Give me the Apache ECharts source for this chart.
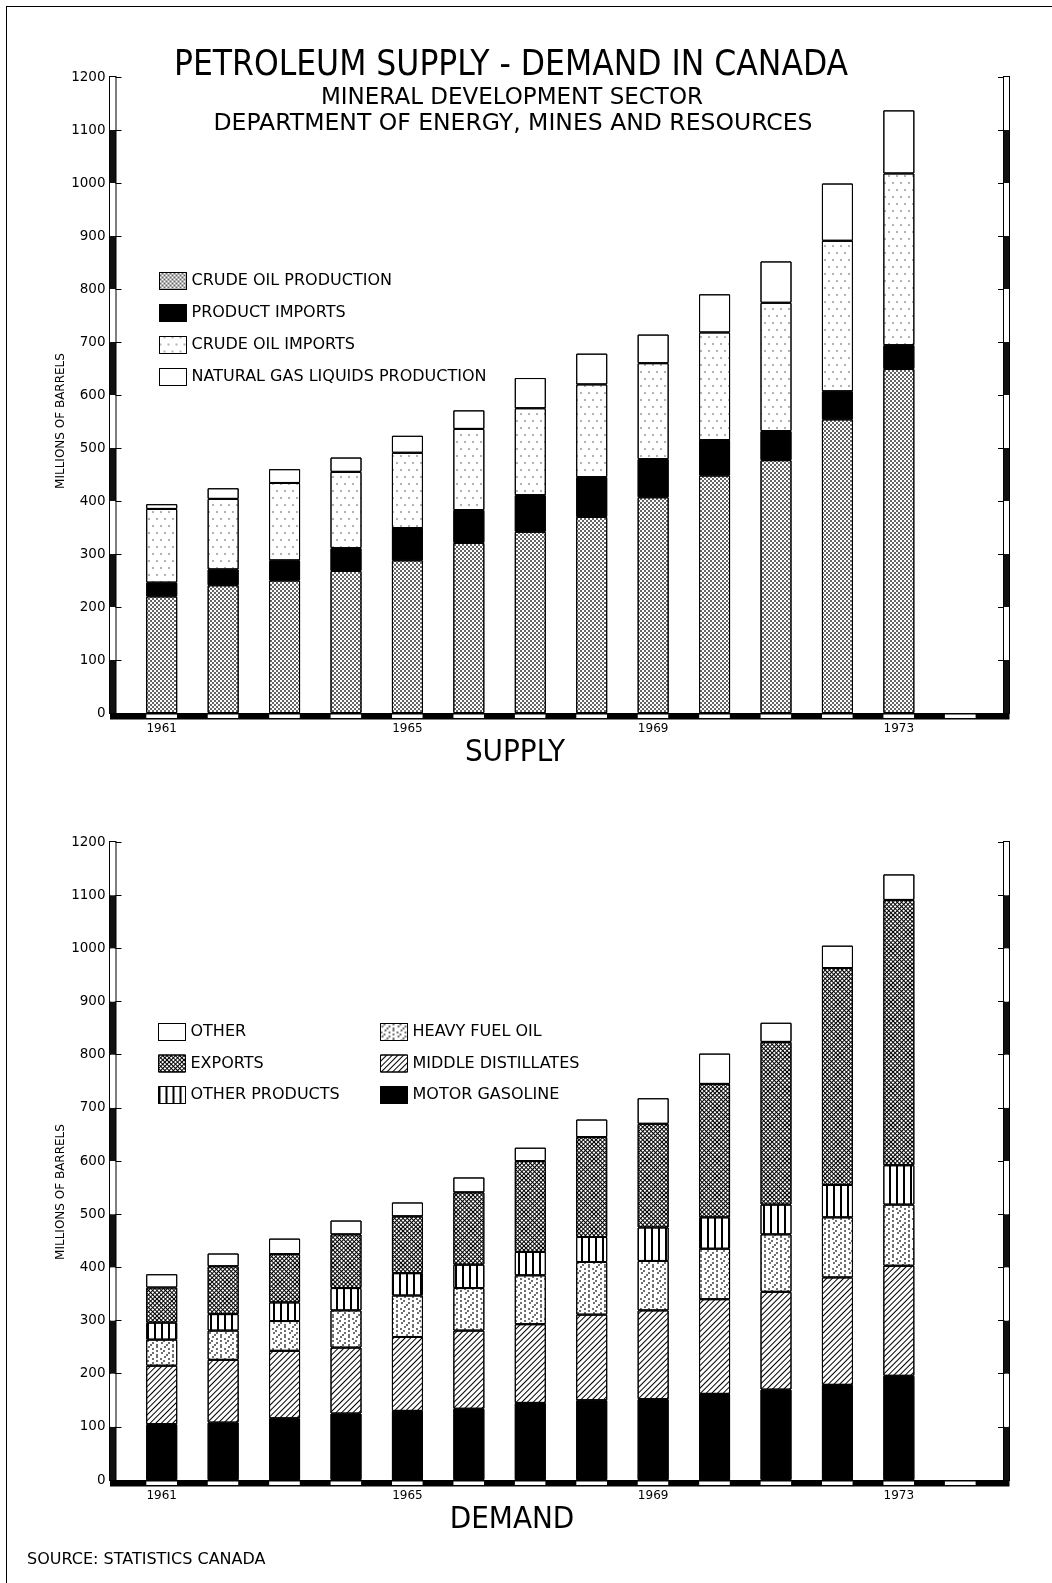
<!DOCTYPE html>
<html>
<head>
<meta charset="utf-8">
<title>Petroleum Supply - Demand in Canada</title>
<script src="https://cdn.jsdelivr.net/npm/echarts@6/dist/echarts.min.js"></script>
<style>
  html, body { margin: 0; padding: 0; background: #fff; }
  #chart { width: 1052px; height: 1583px; }
  #frame { position: absolute; left: 6px; top: 6px; width: 1046px; height: 1577px;
           border-left: 1.5px solid #000; border-top: 1.5px solid #000; pointer-events: none; }
</style>
</head>
<body>
<div id="chart"></div>
<div id="frame"></div>
<script>
// categories (last slot is the empty 1974 position)
const years = ['1961', '1962', '1963', '1964', '1965', '1966', '1967', '1968', '1969', '1970', '1971', '1972', '1973', ''];

// SUPPLY, millions of barrels
const crudeOilProduction = [220, 241, 250, 268, 288, 321, 342, 370, 407, 448, 477, 554, 649];
const productImports = [26, 30, 38, 43, 61, 62, 69, 75, 72, 67, 55, 53, 45];
const crudeOilImports = [139, 133, 146, 144, 142, 153, 164, 175, 181, 203, 242, 284, 324];
const naturalGasLiquids = [9, 20, 26, 27, 32, 35, 57, 58, 54, 72, 78, 108, 119];

// DEMAND, millions of barrels
const motorGasoline = [105, 108, 116, 125, 130, 134, 145, 150, 152, 162, 170, 179, 196];
const middleDistillates = [110, 118, 127, 124, 139, 147, 148, 161, 167, 178, 184, 202, 207];
const heavyFuelOil = [49, 55, 56, 70, 78, 80, 92, 99, 93, 95, 108, 113, 115];
const otherProducts = [32, 31, 35, 42, 42, 44, 44, 47, 63, 59, 56, 61, 74];
const exportsData = [66, 90, 91, 101, 107, 136, 171, 188, 195, 251, 306, 408, 499];
const otherDemand = [25, 24, 29, 26, 26, 28, 25, 33, 48, 57, 36, 42, 48];

const FONT = '"DejaVu Sans", "Noto Sans", sans-serif';
const NARROW = '"Liberation Sans Narrow", "DejaVu Sans Condensed", Roboto, sans-serif';

// fill patterns
const plain = {symbol: 'rect', symbolSize: 1, color: 'rgba(0,0,0,0)', dashArrayX: [1, 0], dashArrayY: [1, 0], rotation: 0};
const denseDots = {symbol: 'rect', symbolSize: 0.8, color: '#000', dashArrayX: [[2, 2], [0, 2, 2, 0]], dashArrayY: [2, 0], rotation: 0};
const sparseDots = {symbol: 'rect', symbolSize: 0.6, color: '#000', dashArrayX: [[2, 6], [0, 4, 2, 2]], dashArrayY: [2, 5], rotation: 0};
const crossHatch = {symbol: 'rect', symbolSize: 1, color: '#000', dashArrayX: [[3, 0], [1, 2]], dashArrayY: [1, 0, 2, 0], rotation: Math.PI / 4};
const vLines = {symbol: 'rect', symbolSize: 1, color: '#000', dashArrayX: [2, 5], dashArrayY: [1, 0], rotation: 0};
const stipple = {symbol: 'rect', symbolSize: 0.75, color: '#000',
  dashArrayX: [[2, 6, 2, 6], [0, 3, 2, 7, 2, 2], [0, 1, 2, 5, 2, 6], [0, 6, 2, 4, 2, 2], [0, 4, 2, 6, 2, 2]],
  dashArrayY: [2, 0], rotation: 0};
const diagonal = {symbol: 'rect', symbolSize: 1, color: '#000', dashArrayX: [1, 0], dashArrayY: [1, 3], rotation: -Math.PI / 4};

function bar(name, data, color, decal, axis, stack) {
  return {
    name, type: 'bar', stack, data,
    xAxisIndex: axis, yAxisIndex: axis * 2,
    barWidth: 31,
    itemStyle: {color, borderColor: '#000', borderWidth: 1, decal},
    emphasis: {disabled: true}
  };
}

// main grids, side scale bars, bottom strips
const plots = [{top: 77, height: 636}, {top: 842, height: 638}];
const grids = [];
plots.forEach(p => grids.push({left: 131, top: p.top, width: 860, height: p.height, outerBoundsMode: 'none'}));
plots.forEach(p => {
  grids.push({left: 110, top: p.top, width: 5.5, height: p.height, show: true, borderColor: '#000', borderWidth: 2, backgroundColor: 'transparent', outerBoundsMode: 'none'});
  grids.push({left: 1004, top: p.top, width: 5, height: p.height, show: true, borderColor: '#000', borderWidth: 2, backgroundColor: 'transparent', outerBoundsMode: 'none'});
});
plots.forEach(p => {
  const y0 = p.top + p.height;
  grids.push({left: 110, top: y0, width: 899.5, height: 6.5, show: true, backgroundColor: '#000', borderWidth: 0, outerBoundsMode: 'none'});
  grids.push({left: 115.6, top: y0 + 1.5, width: 860, height: 3.5, outerBoundsMode: 'none'});
});

const hidden = g => ({gridIndex: g, type: 'value', show: false, min: 0, max: 1});
const xAxes = [0, 1].map(g => ({
  gridIndex: g, type: 'category', data: years,
  axisLine: {show: false}, axisTick: {show: false},
  axisLabel: {interval: 3, margin: 10, color: '#000', fontSize: 12, fontFamily: FONT}
}));
[2, 3, 4, 5, 6, 8].forEach(g => xAxes.push(hidden(g)));
[7, 9].forEach(g => xAxes.push({
  gridIndex: g, type: 'value', min: 0, max: 28, interval: 1,
  axisLine: {show: false}, axisTick: {show: false}, axisLabel: {show: false}, splitLine: {show: false},
  splitArea: {show: true, areaStyle: {color: ['#000', '#fff']}}
}));
// keep xAxis order equal to grid order
xAxes.sort((a, b) => a.gridIndex - b.gridIndex);

const yAxes = [];
[0, 1].forEach(g => {
  yAxes.push({
    gridIndex: g, type: 'value', min: 0, max: 1200, interval: 100, offset: 15.5,
    axisLine: {show: false},
    axisTick: {show: true, inside: true, length: 6, lineStyle: {color: '#000', width: 1}},
    axisLabel: {margin: 10, color: '#000', fontSize: 13.5, fontFamily: FONT, formatter: v => String(v)},
    splitLine: {show: false}
  });
  yAxes.push({
    gridIndex: g, type: 'value', position: 'right', min: 0, max: 1200, interval: 100, offset: 13,
    axisLine: {show: false},
    axisTick: {show: true, inside: true, length: 6, lineStyle: {color: '#000', width: 1}},
    axisLabel: {show: false}, splitLine: {show: false}
  });
});
[2, 3, 4, 5].forEach(g => yAxes.push({
  gridIndex: g, type: 'value', min: 0, max: 1200, interval: 100,
  axisLine: {show: false}, axisTick: {show: false}, axisLabel: {show: false}, splitLine: {show: false},
  splitArea: {show: true, areaStyle: {color: ['#111', '#fff']}}
}));
[6, 7, 8, 9].forEach(g => yAxes.push(hidden(g)));

const legendBase = {
  orient: 'vertical', icon: 'rect', itemWidth: 27, itemHeight: 17, itemGap: 14, selectedMode: false,
  itemStyle: {borderColor: '#000', borderWidth: 1},
  textStyle: {fontFamily: FONT, fontSize: 16, color: '#000'}
};

const option = {
  animation: false,
  backgroundColor: '#fff',
  aria: {enabled: true, decal: {show: true}},
  title: [
    {text: 'PETROLEUM SUPPLY - DEMAND IN CANADA', left: 511, top: 48, textAlign: 'center', padding: 0,
      textStyle: {fontFamily: NARROW, fontSize: 35, fontWeight: 'normal', color: '#000'}},
    {text: 'MINERAL DEVELOPMENT SECTOR', left: 512, top: 87, textAlign: 'center', padding: 0,
      textStyle: {fontFamily: FONT, fontSize: 23, fontWeight: 'normal', color: '#000'}},
    {text: 'DEPARTMENT OF ENERGY, MINES AND RESOURCES', left: 513, top: 112, textAlign: 'center', padding: 0,
      textStyle: {fontFamily: FONT, fontSize: 23.5, fontWeight: 'normal', color: '#000'}},
    {text: 'SUPPLY', left: 515, top: 737, textAlign: 'center', padding: 0,
      textStyle: {fontFamily: NARROW, fontSize: 31, fontWeight: 'normal', color: '#000'}},
    {text: 'DEMAND', left: 512, top: 1504, textAlign: 'center', padding: 0,
      textStyle: {fontFamily: NARROW, fontSize: 31, fontWeight: 'normal', color: '#000'}},
    {text: 'SOURCE: STATISTICS CANADA', left: 27, top: 1552, padding: 0,
      textStyle: {fontFamily: FONT, fontSize: 16, fontWeight: 'normal', color: '#000'}}
  ],
  legend: [
    Object.assign({}, legendBase, {left: 154, top: 267,
      data: ['CRUDE OIL PRODUCTION', 'PRODUCT IMPORTS', 'CRUDE OIL IMPORTS', 'NATURAL GAS LIQUIDS PRODUCTION']}),
    Object.assign({}, legendBase, {left: 153, top: 1018, itemGap: 13.5,
      data: ['OTHER', 'EXPORTS', 'OTHER PRODUCTS']}),
    Object.assign({}, legendBase, {left: 375, top: 1018, itemGap: 13.5,
      data: ['HEAVY FUEL OIL', 'MIDDLE DISTILLATES', 'MOTOR GASOLINE']})
  ],
  graphic: [421, 1192].map(y => ({
    type: 'text', x: 61, y, rotation: Math.PI / 2,
    style: {text: 'MILLIONS OF BARRELS', fill: '#000', font: '12px ' + FONT,
      align: 'center', verticalAlign: 'middle', textAlign: 'center', textVerticalAlign: 'middle'}
  })),
  grid: grids,
  xAxis: xAxes,
  yAxis: yAxes,
  series: [
    bar('CRUDE OIL PRODUCTION', crudeOilProduction, '#fff', denseDots, 0, 'supply'),
    bar('PRODUCT IMPORTS', productImports, '#000', plain, 0, 'supply'),
    bar('CRUDE OIL IMPORTS', crudeOilImports, '#fff', sparseDots, 0, 'supply'),
    bar('NATURAL GAS LIQUIDS PRODUCTION', naturalGasLiquids, '#fff', plain, 0, 'supply'),
    bar('MOTOR GASOLINE', motorGasoline, '#000', plain, 1, 'demand'),
    bar('MIDDLE DISTILLATES', middleDistillates, '#fff', diagonal, 1, 'demand'),
    bar('HEAVY FUEL OIL', heavyFuelOil, '#fff', stipple, 1, 'demand'),
    bar('OTHER PRODUCTS', otherProducts, '#fff', vLines, 1, 'demand'),
    bar('EXPORTS', exportsData, '#fff', crossHatch, 1, 'demand'),
    bar('OTHER', otherDemand, '#fff', plain, 1, 'demand')
  ]
};

const chart = echarts.init(document.getElementById('chart'));
chart.setOption(option);
</script>
</body>
</html>
